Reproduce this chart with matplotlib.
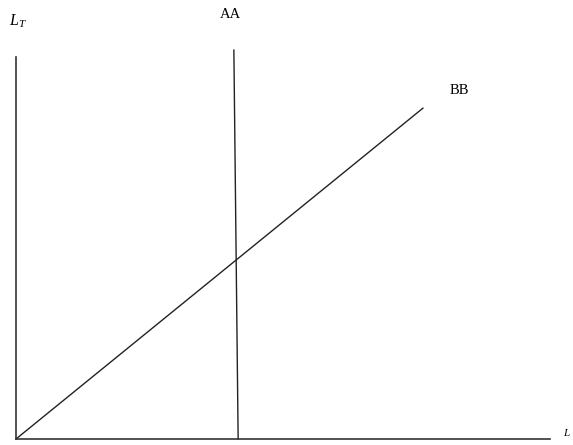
import matplotlib
matplotlib.use("Agg")
import matplotlib.pyplot as plt

plt.rcParams['font.family'] = ['Liberation Serif', 'DejaVu Serif']
plt.rcParams['mathtext.fontset'] = 'custom'
plt.rcParams['mathtext.it'] = 'Liberation Serif:italic'
plt.rcParams['mathtext.rm'] = 'Liberation Serif'

# schematic curves (abstract units, axes run 0..10)
aa_x = [4.16, 4.08]
aa_y = [0.0, 10.18]
bb_x = [0.0, 7.62]
bb_y = [0.0, 8.66]

W, H = 573, 445
fig = plt.figure(figsize=(W / 100, H / 100), dpi=100)
ax = fig.add_axes([16 / W, 6 / H, 534 / W, 382 / H])
ax.set_xlim(0, 10)
ax.set_ylim(0, 10)

ax.plot(aa_x, aa_y, color='#222222', lw=1.0, clip_on=False)
ax.plot(bb_x, bb_y, color='#222222', lw=1.0, clip_on=False)

for side in ['top', 'right']:
    ax.spines[side].set_visible(False)
for side in ['left', 'bottom']:
    ax.spines[side].set_color('#333333')
    ax.spines[side].set_linewidth(1.2)
ax.set_xticks([])
ax.set_yticks([])
ax.patch.set_alpha(0)

fig.text(9 / W, 1 - 21 / H, r'$L_T$', fontsize=11.5, va='center', ha='left')
fig.text(230 / W, 1 - 14 / H, 'AA', fontsize=10.5, va='center', ha='center')
fig.text(459 / W, 1 - 91 / H, 'BB', fontsize=10.5, va='center', ha='center')
fig.text(563 / W, 1 - 433 / H, r'$L$', fontsize=8, va='center', ha='left')

fig.savefig('out.png', dpi=100)
